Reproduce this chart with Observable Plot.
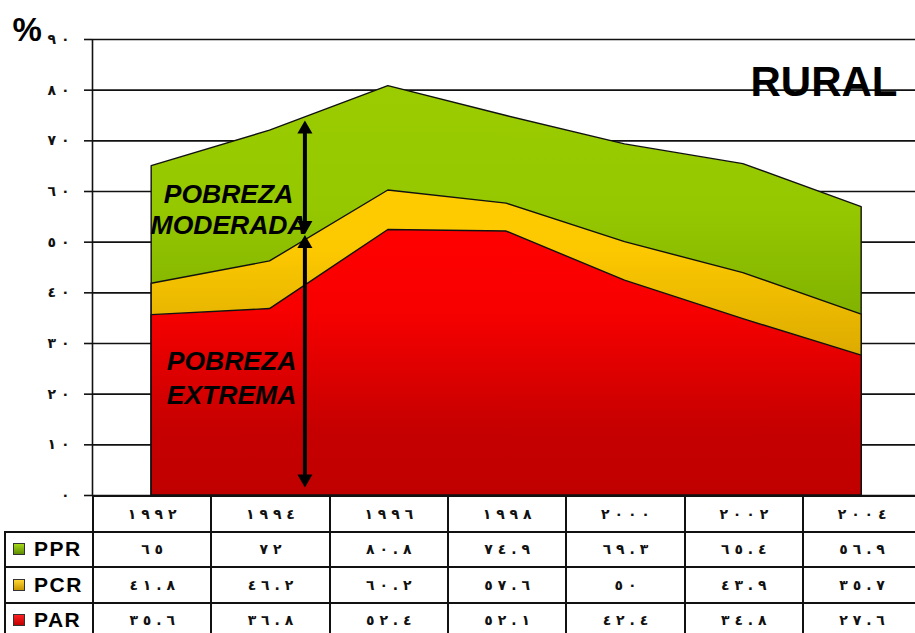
<!DOCTYPE html>
<html><head><meta charset="utf-8">
<script src="https://cdn.jsdelivr.net/npm/d3@7"></script>
<script src="https://cdn.jsdelivr.net/npm/@observablehq/plot@0.6"></script>
<style>
body{margin:0;background:#fff;}
#wrap{position:relative;width:915px;height:633px;overflow:hidden;font-family:"Liberation Sans",Arial,"DejaVu Sans",sans-serif;}
#chart svg{display:block;}
table{position:absolute;left:4px;top:495px;border-collapse:collapse;table-layout:fixed;width:916px;}
td{border:2px solid #111;padding:0;text-align:center;font-weight:bold;font-size:14px;font-family:"DejaVu Sans",sans-serif;white-space:pre;color:#111;}
tr{height:35.5px;}
td.blank{border-top:none;border-left:none;}
td.lab{text-align:left;padding-left:7px;font-family:"Liberation Sans",Arial,sans-serif;font-size:21px;letter-spacing:1.5px;white-space:nowrap;color:#000;}
.sw{display:inline-block;width:10px;height:10px;border:1px solid #333;margin-right:9px;vertical-align:1px;}
</style></head>
<body><div id="wrap"><div id="chart"></div></div>
<script>
const years = [1992, 1994, 1996, 1998, 2000, 2002, 2004];
const ppr = [65, 72, 80.8, 74.9, 69.3, 65.4, 56.9];
const pcr = [41.8, 46.2, 60.2, 57.6, 50, 43.9, 35.7];
const par = [35.6, 36.8, 52.4, 52.1, 42.4, 34.8, 27.6];
const seriesNames = ["PPR", "PCR", "PAR"];
const yTicks = [0, 10, 20, 30, 40, 50, 60, 70, 80, 90];
const yTickLabels = ["٠", "١٠", "٢٠", "٣٠", "٤٠", "٥٠", "٦٠", "٧٠", "٨٠", "٩٠"];
const areaLabels = ["POBREZA\nMODERADA", "POBREZA\nEXTREMA"];
const labelX = [1993.3, 1993.35];
const labelY = [56.7, 23.5];
const arrowX = [1994.59, 1994.59];
const arrowTop = [74.0, 51.4];
const arrowBottom = [51.6, 1.6];

const arabic = v => String(v).replace(/\d/g, d => "٠١٢٣٤٥٦٧٨٩"[d]);
// digits shown spaced out, kept in left-to-right order
const spaced = s => "\u202D" + [...s].join(" ") + "\u202C";
const rows = years.map((y, i) => ({year: y, ppr: ppr[i], pcr: pcr[i], par: par[i]}));
const arrows = arrowX.map((x, i) => ({x, top: arrowTop[i], bottom: arrowBottom[i]}));
const labels = areaLabels.map((t, i) => ({text: t, x: labelX[i], y: labelY[i]}));

const H = 497, mTop = 39, mBottom = 2;
const pxPerUnit = (H - mTop - mBottom) / 90;
const trim = 9 / pxPerUnit;

const plot = Plot.plot({
  width: 915, height: H,
  marginLeft: 92, marginRight: 0, marginTop: mTop, marginBottom: mBottom,
  style: {fontFamily: "'Liberation Sans', Arial, 'DejaVu Sans', sans-serif", background: "white", overflow: "visible", color: "#000"},
  x: {domain: [1991, 2005], range: [92, 920.33], axis: null},
  y: {domain: [0, 90], axis: null},
  marks: [
    Plot.gridY(yTicks, {stroke: "#111", strokeOpacity: 1, strokeWidth: 1.6}),
    Plot.axisY(yTicks, {tickSize: 8, tickPadding: 15, tickFormat: d => spaced(yTickLabels[yTicks.indexOf(d)]), fontSize: 14, fontWeight: "bold", strokeWidth: 1.6, stroke: "#111", fill: "#111", fontFamily: "'DejaVu Sans', sans-serif"}),
    Plot.ruleX([1991], {stroke: "#111", strokeWidth: 1.6}),
    Plot.areaY(rows, {x: "year", y: "ppr", fill: "url(#gGreen)", stroke: "#111", strokeWidth: 1.4}),
    Plot.areaY(rows, {x: "year", y: "pcr", fill: "url(#gYellow)", stroke: "#111", strokeWidth: 1.4}),
    Plot.areaY(rows, {x: "year", y: "par", fill: "url(#gRed)", stroke: "#111", strokeWidth: 1.4}),
    Plot.link(arrows, {x1: "x", x2: "x", y1: d => d.top - trim, y2: d => d.bottom + trim, stroke: "#000", strokeWidth: 4}),
    Plot.dot(arrows, {x: "x", y: "top", symbol: "triangle", r: 5.6, fill: "#000", dy: 8.6}),
    Plot.dot(arrows, {x: "x", y: "bottom", symbol: "triangle", r: 5.6, fill: "#000", rotate: 180, dy: -8.6}),
    Plot.text([labels[0]], {x: "x", y: "y", text: "text", fontSize: 26.5, fontWeight: "bold", fontStyle: "italic", lineHeight: 1.17, fill: "#000"}),
    Plot.text([labels[1]], {x: "x", y: "y", text: "text", fontSize: 26.5, fontWeight: "bold", fontStyle: "italic", lineHeight: 1.25, fill: "#000"}),
    Plot.text(["RURAL"], {frameAnchor: "top-right", text: d => d, textAnchor: "end", lineAnchor: "bottom", dx: -18, dy: 56, fontSize: 42, fontWeight: "bold", fill: "#000"}),
    Plot.text(["%"], {frameAnchor: "top-left", text: d => d, textAnchor: "start", lineAnchor: "bottom", dx: -80, dy: 1, fontSize: 33, fontWeight: "bold", fill: "#000"})
  ]
});

const svg = d3.select(plot);
const defs = svg.insert("defs", ":first-child");
const grads = {
  gGreen: [[0, "#9acc00"], [0.3, "#96c800"], [1, "#5e8e00"]],
  gYellow: [[0, "#ffcc00"], [0.2, "#fcc800"], [1, "#b08400"]],
  gRed: [[0, "#ff0000"], [0.3, "#f80000"], [0.75, "#c60000"], [1, "#c00000"]]
};
for (const [id, stops] of Object.entries(grads)) {
  const g = defs.append("linearGradient").attr("id", id).attr("x1", 0).attr("y1", 0).attr("x2", 0).attr("y2", 1);
  stops.forEach(([o, c]) => g.append("stop").attr("offset", o).attr("stop-color", c));
}
document.getElementById("chart").appendChild(plot);

// data table below the chart
const swatches = ["linear-gradient(#a6d81a,#5e8e00)", "linear-gradient(#ffd633,#c89600)", "linear-gradient(#ff2020,#c00000)"];
const seriesValues = [ppr, pcr, par];
const table = d3.select("#wrap").append("table");
const colg = table.append("colgroup");
colg.append("col").style("width", "88px");
years.forEach(() => colg.append("col").style("width", (828.33 / 7) + "px"));
const hdr = table.append("tr");
hdr.append("td").attr("class", "blank");
years.forEach(y => hdr.append("td").text(spaced(arabic(y))));
seriesNames.forEach((name, si) => {
  const tr = table.append("tr");
  const td = tr.append("td").attr("class", "lab");
  td.append("span").attr("class", "sw").style("background", swatches[si]);
  td.append("span").text(name);
  seriesValues[si].forEach(v => tr.append("td").text(spaced(arabic(v))));
});
</script></body></html>
